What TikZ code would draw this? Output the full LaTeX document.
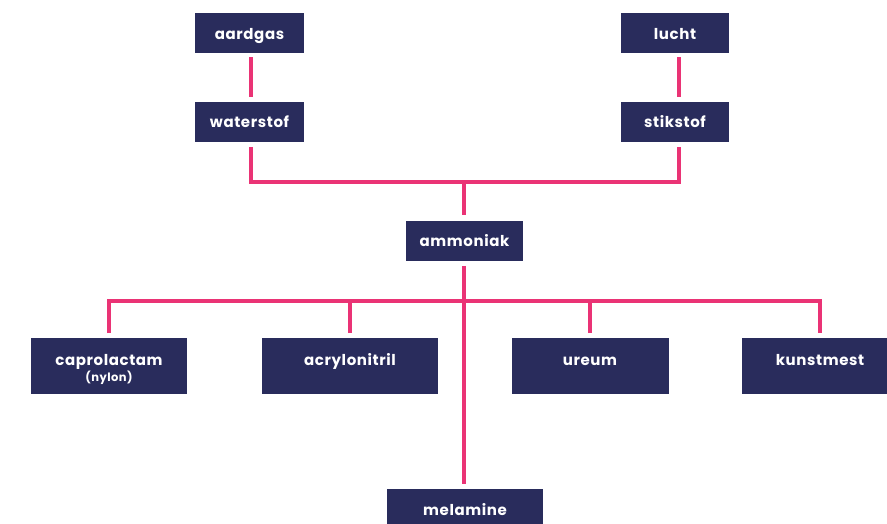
\documentclass[tikz,border=0pt]{standalone}
\usepackage{fontspec}
\setmainfont{Poppins}
\definecolor{navy}{RGB}{41,44,92}
\definecolor{rose}{RGB}{234,51,117}
\begin{document}
\begin{tikzpicture}[x=1pt,y=-1pt,
  box/.style={draw=none,fill=navy,inner sep=0pt,minimum width=#1,anchor=north west},
  lbl/.style={text=white,font=\fontsize{15}{17}\selectfont\bfseries\addfontfeature{LetterSpace=4},anchor=base,inner sep=0pt},
  sublbl/.style={text=white,font=\fontsize{11.5}{13}\selectfont\bfseries\addfontfeature{LetterSpace=4},anchor=base,inner sep=0pt},
  link/.style={draw=rose,line width=4pt,line cap=butt,line join=miter}]
\useasboundingbox (0,0) rectangle (887,524);
% boxes (top-left corners, sizes)
\node[box=109pt,minimum height=40pt] (aardgas) at (195,13) {};
\node[box=109pt,minimum height=40pt] (waterstof) at (195,101.5) {};
\node[box=108pt,minimum height=40pt] (lucht) at (621,13) {};
\node[box=108pt,minimum height=40pt] (stikstof) at (621,101.5) {};
\node[box=117pt,minimum height=40pt] (ammoniak) at (406,220.5) {};
\node[box=156pt,minimum height=56pt] (capro) at (31,338) {};
\node[box=176pt,minimum height=56pt] (acryl) at (262,338) {};
\node[box=157pt,minimum height=56pt] (ureum) at (511.5,338) {};
\node[box=156pt,minimum height=56pt] (kunst) at (742,338) {};
\node[box=156pt,minimum height=56pt] (melamine) at (387,489) {};
% labels
\node[lbl] (t-aardgas) at (249.5,39.5) {aardgas};
\node[lbl] (t-waterstof) at (249.5,128) {waterstof};
\node[lbl] (t-lucht) at (675,39.5) {lucht};
\node[lbl] (t-stikstof) at (675,128) {stikstof};
\node[lbl] (t-ammoniak) at (464.5,247) {ammoniak};
\node[lbl] (t-capro) at (109,365) {caprolactam};
\node[sublbl] (t-nylon) at (109,381) {(nylon)};
\node[lbl] (t-acryl) at (350,365) {acrylonitril};
\node[lbl] (t-ureum) at (590,365) {ureum};
\node[lbl] (t-kunst) at (820,365) {kunstmest};
\node[lbl] (t-melamine) at (465,515.5) {melamine};
% junctions
\coordinate (jtop) at (464,182);
\coordinate (jbot) at (464,300.5);
% connectors
\draw[link] ([xshift=1pt,yshift=-4pt]aardgas.south) -- ([xshift=1pt,yshift=4pt]waterstof.north);
\draw[link] ([xshift=4pt,yshift=-4pt]lucht.south) -- ([xshift=4pt,yshift=4pt]stikstof.north);
\draw[link] ([xshift=1pt,yshift=-5pt]waterstof.south) |- (jtop) -| ([xshift=4pt,yshift=-5pt]stikstof.south);
\draw[link] (jtop) -- ([yshift=5pt]ammoniak.north -| jtop);
\draw[link] ([yshift=-5pt]ammoniak.south -| jtop) -- ([yshift=5pt]melamine.north -| jtop);
\draw[link] ([yshift=5pt]capro.north) |- (jbot) -| ([yshift=5pt]kunst.north);
\draw[link] ([yshift=5pt]acryl.north) -- (acryl.north |- jbot);
\draw[link] ([yshift=5pt]ureum.north) -- (ureum.north |- jbot);
\end{tikzpicture}
\end{document}
